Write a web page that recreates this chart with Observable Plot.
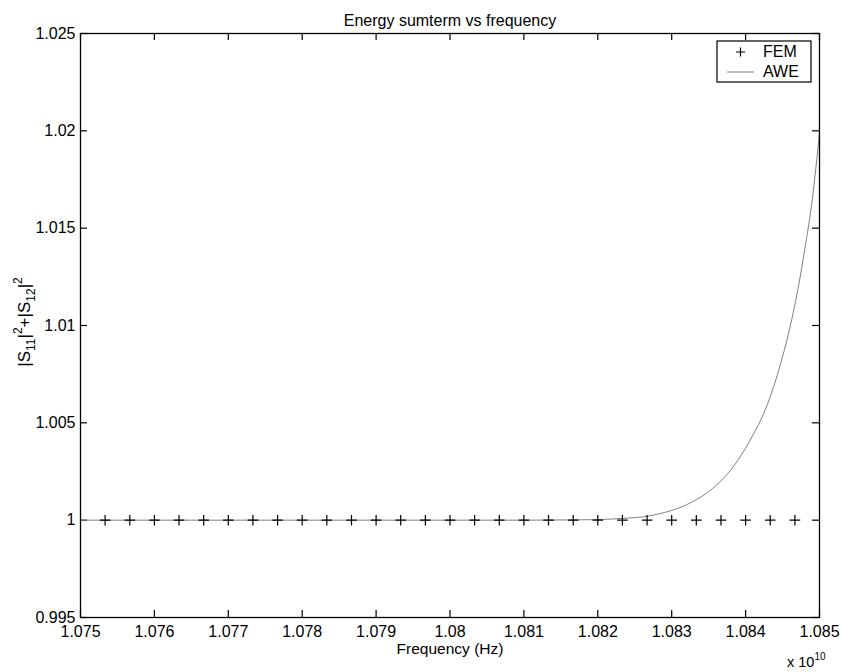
<!DOCTYPE html>
<html>
<head>
<meta charset="utf-8">
<script src="https://cdn.jsdelivr.net/npm/d3@7"></script>
<script src="https://cdn.jsdelivr.net/npm/@observablehq/plot@0.6"></script>
<style>
  body { margin: 0; background: #fff; }
  svg { font-family: "Liberation Sans", Arial, Helvetica, sans-serif; }
</style>
</head>
<body>
<div id="chart"></div>
<script>
// Frequencies in units of 10^10 Hz
const titleText = "Energy sumterm vs frequency";
const xLabelText = "Frequency (Hz)";
const xTicks = [1.075, 1.076, 1.077, 1.078, 1.079, 1.08, 1.081, 1.082, 1.083, 1.084, 1.085];
const yTicks = [0.995, 1, 1.005, 1.01, 1.015, 1.02, 1.025];

const femFreq = [1.075333, 1.075667, 1.076, 1.076333, 1.076667, 1.077, 1.077333, 1.077667,
  1.078, 1.078333, 1.078667, 1.079, 1.079333, 1.079667, 1.08, 1.080333, 1.080667, 1.081,
  1.081333, 1.081667, 1.082, 1.082333, 1.082667, 1.083, 1.083333, 1.083667, 1.084,
  1.084333, 1.084667];
const femValue = [1, 1, 1, 1, 1, 1, 1, 1, 1, 1, 1, 1, 1, 1, 1, 1, 1, 1, 1, 1, 1, 1, 1, 1, 1, 1, 1, 1, 1];

const aweFreq = [1.075, 1.077, 1.079, 1.08, 1.081, 1.0815, 1.082, 1.0822, 1.0824, 1.0826,
  1.0827, 1.0828, 1.0829, 1.083, 1.0831, 1.0832, 1.0833, 1.0834, 1.0835, 1.0836, 1.0837,
  1.0838, 1.0839, 1.084, 1.0841, 1.0842, 1.0843, 1.0844, 1.0845, 1.0846, 1.0847, 1.0848,
  1.0849, 1.085];
const aweValue = [1, 1, 1, 1, 1, 1.00001, 1.00003, 1.00006, 1.00011, 1.00016,
  1.00022, 1.0003, 1.00039, 1.0005, 1.00063, 1.00079, 1.00098, 1.0012, 1.00147, 1.00178, 1.00215,
  1.00258, 1.0031, 1.0037, 1.00438, 1.0051, 1.006, 1.0071, 1.0084, 1.0099, 1.0117, 1.0139,
  1.0164, 1.0199];

const fem = femFreq.map((f, i) => ({f, v: femValue[i]}));
const awe = aweFreq.map((f, i) => ({f, v: aweValue[i]}));

const W = 842, H = 672;
const mT = 33, mB = 55, mL = 80, mR = 23;
const fh = H - mT - mB, fw = W - mL - mR;
const tl = 7;
const fmt = d => String(+d.toFixed(3));

const chart = Plot.plot({
  width: W,
  height: H,
  marginTop: mT,
  marginBottom: mB,
  marginLeft: mL,
  marginRight: mR,
  style: {fontFamily: "'Liberation Sans', Arial, sans-serif", fontSize: "16px", background: "#fff", color: "#000"},
  x: {domain: [1.075, 1.085]},
  y: {domain: [0.995, 1.025]},
  marks: [
    Plot.axisX({ticks: xTicks, tickSize: 0, tickPadding: 8, tickFormat: fmt, label: null}),
    Plot.axisY({ticks: yTicks, tickSize: 0, tickPadding: 5, tickFormat: fmt, label: null}),
    Plot.tickX(xTicks, {x: d => d, insetTop: fh - tl, stroke: "#000", strokeWidth: 1.2}),
    Plot.tickX(xTicks, {x: d => d, insetBottom: fh - tl, stroke: "#000", strokeWidth: 1.2}),
    Plot.tickY(yTicks, {y: d => d, insetRight: fw - tl, stroke: "#000", strokeWidth: 1.2}),
    Plot.tickY(yTicks, {y: d => d, insetLeft: fw - tl, stroke: "#000", strokeWidth: 1.2}),
    Plot.line(awe, {x: "f", y: "v", stroke: "#808080", strokeWidth: 1, curve: "monotone-x"}),
    Plot.dot(fem, {x: "f", y: "v", symbol: "plus", r: 3.5, stroke: "#000", strokeWidth: 1.2}),
    Plot.frame({stroke: "#000", strokeWidth: 1.3}),
    Plot.text([titleText], {text: d => d, frameAnchor: "top", dy: -19, fontSize: 16, fill: "#000"}),
    Plot.text([xLabelText], {text: d => d, frameAnchor: "bottom", dy: 36, fontSize: 15.5, fill: "#000"})
  ]
});

document.getElementById("chart").appendChild(chart);

const svg = d3.select(chart);

// y-axis label with subscripts / superscripts
const yl = svg.append("text")
  .attr("transform", "translate(30,322) rotate(-90)")
  .attr("text-anchor", "middle")
  .attr("font-size", 17)
  .attr("fill", "#000");
const parts = [
  ["|S", 0, 17], ["11", 5, 12], ["|", -5, 17], ["2", -8, 12],
  ["+|S", 8, 17], ["12", 5, 12], ["|", -5, 17], ["2", -8, 12]
];
parts.forEach(([t, dy, fs]) => yl.append("tspan").attr("dy", dy).attr("font-size", fs).text(t));

// x 10^10 exponent
const ex = svg.append("text")
  .attr("x", 787).attr("y", 667)
  .attr("text-anchor", "start")
  .attr("font-size", 14.5)
  .attr("fill", "#000");
ex.append("tspan").text("x 10");
ex.append("tspan").attr("dy", -7).attr("font-size", 10).text("10");

// legend box
const lg = svg.append("g");
lg.append("rect").attr("x", 717).attr("y", 41).attr("width", 94).attr("height", 41)
  .attr("fill", "#fff").attr("stroke", "#000").attr("stroke-width", 1.2);
lg.append("path").attr("d", "M736,52h9M740.5,47.5v9").attr("stroke", "#000").attr("stroke-width", 1.2);
lg.append("text").attr("x", 763).attr("y", 57).attr("text-anchor", "start")
  .attr("font-size", 16).attr("fill", "#000").text("FEM");
lg.append("line").attr("x1", 727).attr("x2", 754).attr("y1", 72).attr("y2", 72)
  .attr("stroke", "#808080").attr("stroke-width", 1);
lg.append("text").attr("x", 763).attr("y", 77).attr("text-anchor", "start")
  .attr("font-size", 16).attr("fill", "#000").text("AWE");
</script>
</body>
</html>
